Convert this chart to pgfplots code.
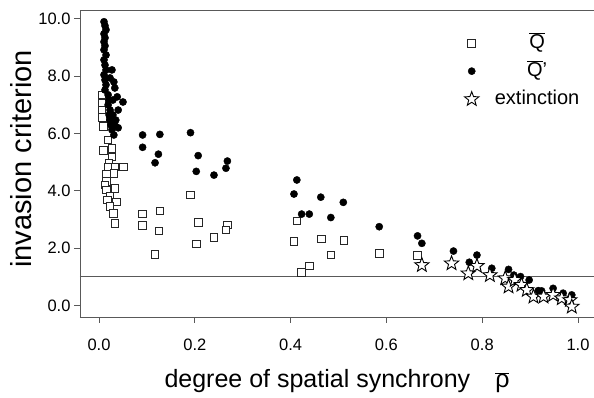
\documentclass[border=0pt]{standalone}
\usepackage{fontspec}
\setmainfont{Liberation Sans}
\usepackage{pgfplots}
\pgfplotsset{compat=1.18}
\newcommand{\ob}[1]{\ensuremath{\overline{\hbox{#1}}}}
\pgfdeclareplotmark{ostar}{%
  \pgfpathmoveto{\pgfpointpolar{90}{\pgfplotmarksize}}%
  \pgfpathlineto{\pgfpointpolar{126}{0.42\pgfplotmarksize}}%
  \pgfpathlineto{\pgfpointpolar{162}{\pgfplotmarksize}}%
  \pgfpathlineto{\pgfpointpolar{198}{0.42\pgfplotmarksize}}%
  \pgfpathlineto{\pgfpointpolar{234}{\pgfplotmarksize}}%
  \pgfpathlineto{\pgfpointpolar{270}{0.42\pgfplotmarksize}}%
  \pgfpathlineto{\pgfpointpolar{306}{\pgfplotmarksize}}%
  \pgfpathlineto{\pgfpointpolar{342}{0.42\pgfplotmarksize}}%
  \pgfpathlineto{\pgfpointpolar{18}{\pgfplotmarksize}}%
  \pgfpathlineto{\pgfpointpolar{54}{0.42\pgfplotmarksize}}%
  \pgfpathclose
  \pgfusepathqfillstroke
}

\pgfplotstableread{
x y
0.006 7.35
0.006 7.06
0.006 6.82
0.007 6.57
0.009 6.24
0.019 5.78
0.009 5.40
0.027 5.49
0.027 5.19
0.021 4.95
0.019 4.84
0.033 4.84
0.051 4.84
0.016 4.58
0.031 4.61
0.016 4.32
0.012 4.20
0.033 4.09
0.016 4.03
0.023 3.80
0.037 3.62
0.017 3.68
0.023 3.45
0.030 3.22
0.033 2.87
0.091 3.19
0.127 3.30
0.091 2.79
0.125 2.60
0.117 1.79
0.191 3.86
0.207 2.90
0.203 2.15
0.240 2.38
0.268 2.81
0.265 2.64
0.413 2.95
0.407 2.23
0.465 2.32
0.511 2.26
0.484 1.76
0.585 1.82
0.665 1.74
0.439 1.38
0.423 1.16
}\Qbar

\pgfplotstableread{
x y
0.0104 9.90
0.0125 9.76
0.0146 9.62
0.0104 9.48
0.0125 9.34
0.0104 9.20
0.0125 9.06
0.0104 8.92
0.0146 8.74
0.0104 8.57
0.0125 8.39
0.0146 8.22
0.0104 8.05
0.0125 7.87
0.0146 7.70
0.0125 7.52
0.019 7.35
0.021 7.17
0.019 7.00
0.023 6.82
0.021 6.65
0.023 6.47
0.025 6.30
0.027 8.22
0.023 7.94
0.031 7.80
0.033 7.59
0.038 7.28
0.029 7.17
0.050 7.10
0.040 6.82
0.029 6.65
0.035 6.47
0.033 6.30
0.027 6.13
0.040 6.20
0.031 5.95
0.091 5.95
0.127 5.97
0.091 5.52
0.124 5.28
0.117 4.98
0.191 6.03
0.207 5.23
0.203 4.68
0.240 4.55
0.268 5.04
0.265 4.79
0.413 4.38
0.407 3.89
0.423 3.19
0.439 3.19
0.463 3.78
0.484 3.07
0.510 3.60
0.585 2.75
0.665 2.43
0.674 2.17
0.740 1.90
0.773 1.51
0.789 1.76
0.820 1.30
0.855 1.26
0.866 1.06
0.880 1.01
0.898 0.89
0.917 0.52
0.924 0.51
0.948 0.60
0.969 0.43
0.987 0.37
}\Qprime

\pgfplotstableread{
x y
0.674 1.41
0.736 1.47
0.771 1.12
0.789 1.38
0.816 1.06
0.848 0.95
0.855 0.66
0.868 0.89
0.882 0.72
0.893 0.54
0.907 0.31
0.928 0.31
0.948 0.37
0.966 0.25
0.983 0.19
0.987 -0.04
}\Ext

\begin{document}
\begin{tikzpicture}
\begin{axis}[
  scale only axis, width=514pt, height=307pt,
  xmin=-0.0397, xmax=1.0334, ymin=-0.40, ymax=10.31,
  axis lines*=left,
  axis line style={black!65, line width=0.8pt, -},
  xtick={0,0.2,0.4,0.6,0.8,1.0},
  ytick={0,2,4,6,8,10},
  tick style={black!65, line width=0.8pt},
  major tick length=6pt,
  tick align=outside,
  xticklabel style={font=\fontsize{16.5}{18}\selectfont, yshift=-12pt},
  yticklabel style={font=\fontsize{16.5}{18}\selectfont},
  /pgf/number format/fixed,
  /pgf/number format/fixed zerofill,
  /pgf/number format/precision=1,
  /pgf/number format/assume math mode=true,
  xlabel={degree of spatial synchrony\quad \ob{ρ}},
  ylabel={invasion criterion},
  xlabel style={font=\fontsize{25}{29}\selectfont, at={(axis description cs:0.5,-0.231)}, anchor=base},
  ylabel style={font=\fontsize{29}{32}\selectfont, at={(axis description cs:-0.0934,0.515)}, anchor=base},
  legend style={draw=none, fill=none, at={(axis description cs:0.742,0.935)}, anchor=north west,
    font=\fontsize{20}{22}\selectfont, row sep=6pt, column sep=14pt, cells={anchor=center},
    nodes={text height=14pt, text depth=4pt}},
]
\addplot[black!65, line width=0.8pt, forget plot] coordinates {(-0.0397,1) (1.0334,1)};
\draw[black!65, line width=0.8pt] (rel axis cs:0,1) -- (rel axis cs:1,1);
\addplot[only marks, mark=square*, mark size=3.8pt, mark options={draw=black!85, fill=white, line width=0.9pt}] table {\Qbar};
\addlegendentry{\ob{Q}}
\addplot[only marks, mark=*, mark size=3.6pt, mark options={draw=black, fill=black}] table {\Qprime};
\addlegendentry{\ob{Q}’}
\addplot[only marks, mark=ostar, mark size=7.5pt, mark options={draw=black, fill=white, line width=0.9pt}] table {\Ext};
\addlegendentry{extinction}
\end{axis}
\pgfresetboundingbox
\path ([xshift=-80pt,yshift=-81pt]current axis.south west) rectangle ([yshift=10pt]current axis.north east);
\end{tikzpicture}
\end{document}
